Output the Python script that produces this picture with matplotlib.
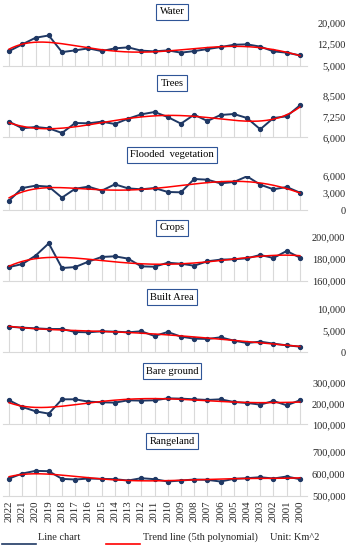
import numpy as np
import matplotlib.pyplot as plt
from matplotlib.lines import Line2D

plt.rcParams['font.family'] = ['Liberation Serif', 'DejaVu Serif']

years = [str(y) for y in range(2022, 1999, -1)]

water = [10100, 12450, 14750, 15550, 9750, 10350, 11050, 10100, 11050, 11400, 10250, 10000,
         10350, 9550, 10100, 10800, 11500, 12300, 12450, 11650, 10000, 9550, 8600]
trees = [6940, 6540, 6620, 6540, 6260, 6860, 6840, 6940, 6800, 7120, 7380, 7520,
         7220, 6820, 7360, 6980, 7340, 7400, 7160, 6480, 7160, 7260, 7920]
flooded = [1650, 3880, 4290, 4120, 2180, 3760, 4120, 3410, 4530, 3820, 3650, 3880,
           3180, 3120, 5470, 5350, 4700, 4940, 5940, 4470, 3650, 4060, 3060]
crops = [172600, 175300, 182900, 194000, 171700, 172600, 177500, 181700, 182300, 180200, 173200, 172900,
         176500, 175600, 173800, 177800, 179300, 179600, 180500, 183500, 180800, 187100, 181100]
built = [5920, 5690, 5540, 5380, 5380, 4690, 4620, 4850, 4770, 4620, 4850, 3770,
         4690, 3620, 3150, 3080, 3460, 2690, 2150, 2460, 2000, 1610, 1310]
bare = [214300, 182500, 161900, 150800, 219000, 219000, 207900, 204800, 203200, 214300, 212700, 214300,
        223800, 222200, 219000, 215900, 219000, 206300, 201600, 193700, 211100, 190500, 214300]
range_land = [578900, 601500, 613500, 612000, 577400, 574400, 578900, 577400, 575900, 569900, 580400, 575900,
              565400, 569900, 574400, 572900, 565400, 577400, 580400, 584900, 578900, 587900, 575900]

panels = [
    ("Water", water, [5000, 12500, 20000]),
    ("Trees", trees, [6000, 7250, 8500]),
    ("Flooded  vegetation", flooded, [0, 3000, 6000]),
    ("Crops", crops, [160000, 180000, 200000]),
    ("Built Area", built, [0, 5000, 10000]),
    ("Bare ground", bare, [100000, 200000, 300000]),
    ("Rangeland", range_land, [500000, 600000, 700000]),
]
# pixel layout: (top of plot, bottom of plot, title centre)
layout = [(22.7, 65.7, 12), (95.7, 137.3, 83), (176, 210, 155), (236.7, 281, 228),
          (309, 352.3, 297), (382.3, 424.3, 371), (451.7, 496, 441)]

W, H = 353, 550
navy = '#1F3864'
red = '#FF0000'
grey = '#D9D9D9'
txt = '#262626'

fig = plt.figure(figsize=(W / 100, H / 100), dpi=100)
x = np.arange(len(years))
xs = np.linspace(0, len(years) - 1, 200)

for i, ((name, vals, ticks), (top, bot, ty)) in enumerate(zip(panels, layout)):
    ax = fig.add_axes([2.5 / W, 1 - bot / H, (306.5 - 2.5) / W, (bot - top) / H])
    vals = np.array(vals, dtype=float)
    ax.vlines(x, ticks[0], vals, color=grey, lw=0.8, zorder=0)
    # 5th order polynomial trend, as in the source chart
    coef = np.polyfit(x + 1, vals, 5)
    ax.plot(xs, np.polyval(coef, xs + 1), color=red, lw=1.1, zorder=3)
    ax.plot(x, vals, color=navy, lw=1.4, marker='o', ms=2.8, zorder=2)
    ax.set_xlim(-0.5, len(years) - 0.5)
    ax.set_ylim(ticks[0], ticks[-1])
    for s in ['top', 'left', 'right']:
        ax.spines[s].set_visible(False)
    ax.spines['bottom'].set_color(grey)
    ax.spines['bottom'].set_linewidth(0.8)
    ax.yaxis.tick_right()
    ax.set_yticks(ticks)
    ax.set_yticklabels([f"{t:,}" for t in ticks], ha='right', fontsize=7.5, color=txt)
    ax.tick_params(axis='y', length=0, pad=28)
    if i == len(panels) - 1:
        ax.set_xticks(x)
        ax.set_xticklabels(years, rotation=90, fontsize=7.8, color=txt)
        ax.tick_params(axis='x', length=0, pad=3)
    else:
        ax.set_xticks([])
    ax.patch.set_alpha(0)
    fig.text(172 / W, 1 - ty / H, name, ha='center', va='center', fontsize=7.6, color='black',
             bbox=dict(boxstyle='square,pad=0.3', fc='white', ec='#2F5597', lw=0.8))

# legend
ly = 1 - 544 / H
fig.add_artist(Line2D([2 / W, 36 / W], [ly, ly], color=navy, lw=1.2))
fig.add_artist(Line2D([106 / W, 140 / W], [ly, ly], color=red, lw=1.2))
ty = 1 - 537 / H
fig.text(38 / W, ty, "Line chart", ha='left', va='center', fontsize=7.5, color=txt)
fig.text(143 / W, ty, "Trend line (5th polynomial)", ha='left', va='center', fontsize=7.5, color=txt)
fig.text(270 / W, ty, "Unit: Km^2", ha='left', va='center', fontsize=7.5, color=txt)

fig.savefig("out.png", dpi=100)
